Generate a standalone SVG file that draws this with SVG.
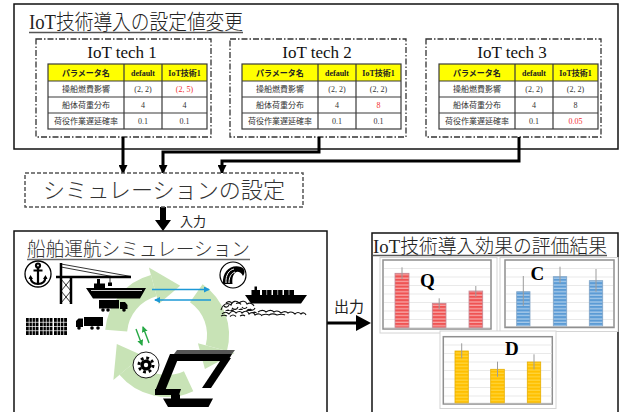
<svg xmlns="http://www.w3.org/2000/svg" xmlns:xlink="http://www.w3.org/1999/xlink" width="622" height="412" viewBox="0 0 622 412">
  <style>
    .mix { font-family: "Liberation Serif", "Noto Sans CJK JP", serif; }
    .jp { font-family: "Noto Sans CJK JP", sans-serif; }
    .box { fill: #fff; stroke: #111; stroke-width: 1.5; }
    .dd { fill: none; stroke: #333; stroke-width: 1.3; stroke-dasharray: 6 2 1.5 2; }
    .cell { fill: none; stroke: #3a3a3a; stroke-width: 1.2; }
    .th { font-size: 8px; font-weight: bold; text-anchor: middle; fill: #222; }
    .td { font-size: 8px; text-anchor: middle; fill: #333; }
    .red { fill: #f23030; }
    .conn { fill: none; stroke: #000; stroke-width: 3; }
    .grid { stroke: #e3e3e3; stroke-width: 0.8; }
    .frameO { fill: #fff; stroke: #d4d4d4; stroke-width: 1; }
    .frameI { fill: #fff; stroke: #8f8f8f; stroke-width: 1.5; }
    .err { stroke: #9c9c9c; stroke-width: 1; fill: none; }
    .lbl { font-family: "Liberation Serif", serif; font-weight: bold; font-size: 19px; fill: #000; }
    .ring { fill: none; stroke: #c8e3b6; stroke-width: 22; }
    .ringHead { fill: #c8e3b6; }
  </style>
  <defs>
    <marker id="ah" markerUnits="userSpaceOnUse" markerWidth="9" markerHeight="9" refX="8" refY="4.5" orient="auto">
      <path d="M0,0 L9,4.5 L0,9 Z" fill="#000"/>
    </marker>
    <marker id="bh" markerUnits="userSpaceOnUse" markerWidth="6" markerHeight="6" refX="5" refY="3" orient="auto">
      <path d="M0,0 L6,3 L0,6 Z" fill="#1c98d6"/>
    </marker>
    <marker id="gh" markerUnits="userSpaceOnUse" markerWidth="6" markerHeight="6" refX="5" refY="3" orient="auto">
      <path d="M0,0 L6,3 L0,6 Z" fill="#27a845"/>
    </marker>
    <pattern id="stR" width="6" height="3.4" patternUnits="userSpaceOnUse">
      <rect width="6" height="3.4" fill="#ef5353"/>
      <rect y="2.1" width="6" height="1.3" fill="#f8a4a4"/>
    </pattern>
    <pattern id="stB" width="6" height="3.4" patternUnits="userSpaceOnUse">
      <rect width="6" height="3.4" fill="#5b9bd5"/>
      <rect y="2.1" width="6" height="1.3" fill="#a8cbea"/>
    </pattern>
    <pattern id="stY" width="6" height="3.4" patternUnits="userSpaceOnUse">
      <rect width="6" height="3.4" fill="#ffc000"/>
      <rect y="2.1" width="6" height="1.3" fill="#ffd43a"/>
    </pattern>
    <!-- parameter table: grid, header and fixed columns -->
    <g id="tbl">
      <rect x="0" y="0" width="159" height="17" fill="#ffff00"/>
      <rect class="cell" x="0" y="0" width="159" height="65" stroke-width="1.5"/>
      <path class="cell" d="M0 17 H159 M0 33 H159 M0 49 H159 M76 0 V65 M114 0 V65"/>
      <text class="th jp" x="38" y="11.5">パラメータ名</text>
      <text class="th mix" x="95" y="11.5">default</text>
      <text class="th mix" x="136.5" y="11.5">IoT技術1</text>
      <text class="td jp" x="38" y="28">操船燃費影響</text>
      <text class="td jp" x="38" y="44">船体荷重分布</text>
      <text class="td jp" x="38" y="60">荷役作業遅延確率</text>
      <text class="td mix" x="95" y="28">(2, 2)</text>
      <text class="td mix" x="95" y="44">4</text>
      <text class="td mix" x="95" y="60">0.1</text>
    </g>
  </defs>

  <rect width="622" height="412" fill="#fff"/>

  <!-- settings panel -->
  <g id="settings">
    <rect class="box" x="14" y="4" width="604" height="145"/>
    <text class="mix" x="29" y="29" font-size="21" font-weight="300" fill="#222" textLength="214" lengthAdjust="spacingAndGlyphs">IoT技術導入の設定値変更</text>
    <path d="M29 32.5 H243" stroke="#555" stroke-width="1.5"/>
  </g>

  <g id="tech1">
    <rect class="dd" x="36" y="39" width="175" height="98"/>
    <text class="mix" x="122" y="58" font-size="17" text-anchor="middle" fill="#111">IoT tech 1</text>
    <use xlink:href="#tbl" x="48" y="64"/>
    <text class="td mix red" x="184.5" y="92">(2, 5)</text>
    <text class="td mix" x="184.5" y="108">4</text>
    <text class="td mix" x="184.5" y="124">0.1</text>
  </g>

  <g id="tech2">
    <rect class="dd" x="230" y="39" width="176" height="98"/>
    <text class="mix" x="317" y="58" font-size="17" text-anchor="middle" fill="#111">IoT tech 2</text>
    <use xlink:href="#tbl" x="242" y="64"/>
    <text class="td mix" x="378.5" y="92">(2, 2)</text>
    <text class="td mix red" x="378.5" y="108">8</text>
    <text class="td mix" x="378.5" y="124">0.1</text>
  </g>

  <g id="tech3">
    <rect class="dd" x="426" y="39" width="175" height="98"/>
    <text class="mix" x="512" y="58" font-size="17" text-anchor="middle" fill="#111">IoT tech 3</text>
    <use xlink:href="#tbl" x="439" y="64"/>
    <text class="td mix" x="575.5" y="92">(2, 2)</text>
    <text class="td mix" x="575.5" y="108">8</text>
    <text class="td mix red" x="575.5" y="124">0.05</text>
  </g>

  <!-- connectors -->
  <g id="connectors">
    <path class="conn" d="M123 137 V173" marker-end="url(#ah)"/>
    <path class="conn" d="M319 137 V152 H163 V173" marker-end="url(#ah)"/>
    <path class="conn" d="M519 137 V161 H222 V173" marker-end="url(#ah)"/>
    <path d="M160 207 H166 V220 H171 L163 231 L155 220 H160 Z" fill="#000"/>
    <text class="jp" x="180" y="226" font-size="13" fill="#222">入力</text>
    <path d="M327 321.5 H356 V315 L371 323 L356 331 V324.5 H327 Z" fill="#000"/>
    <text class="jp" x="334" y="312" font-size="15" fill="#222">出力</text>
  </g>

  <g id="sim-setup">
    <rect x="25" y="173" width="278" height="34" fill="#fff" stroke="#555" stroke-width="1.5" stroke-dasharray="4 2"/>
    <text class="jp" x="43" y="198" font-size="22" font-weight="300" fill="#333" textLength="242" lengthAdjust="spacingAndGlyphs">シミュレーションの設定</text>
  </g>

  <!-- ship operation simulation panel -->
  <g id="ship-sim">
    <rect class="box" x="14" y="231" width="313" height="190"/>
    <text class="jp" x="27" y="256" font-size="19" font-weight="300" fill="#333" textLength="223" lengthAdjust="spacingAndGlyphs">船舶運航シミュレーション</text>
    <path d="M27 259.5 H250" stroke="#666" stroke-width="1.5"/>

    <!-- cycle ring -->
    <path class="ring" d="M116.2 330.6 A51 51 0 0 1 153.8 285.7"/>
    <path class="ringHead" d="M158.7 304.1 L148.9 267.4 L180.2 285.7 Z"/>
    <path class="ring" d="M196.3 293.2 A51 51 0 0 1 216.3 348.2"/>
    <path class="ringHead" d="M197.9 343.3 L234.6 353.1 L204.9 369.1 Z"/>
    <path class="ring" d="M188.6 381.2 A51 51 0 0 1 127.9 367.8"/>
    <path class="ringHead" d="M142.5 355.6 L113.4 380 L116.8 343.9 Z"/>

    <!-- anchor -->
    <circle cx="38" cy="274" r="13" fill="#fff" stroke="#000" stroke-width="1.3"/>
    <g fill="none" stroke="#000" stroke-width="2.2">
      <circle cx="38" cy="265.5" r="2"/>
      <path d="M38 267.5 V283.5 M33.5 270.5 H42.5 M30.5 277 Q31 284 38 284 Q45 284 45.5 277"/>
    </g>
    <path d="M28.5 279 L30.5 275 L33 279 Z M43 279 L45.5 275 L47.5 279 Z" fill="#000"/>

    <!-- crane -->
    <g fill="none" stroke="#000">
      <path d="M56 277 H131" stroke-width="2.5"/>
      <path d="M61 263 V304 M71 277 V304" stroke-width="2.5"/>
      <path d="M61 279 L71 291 M71 279 L61 291 M61 291 L71 303 M71 291 L61 303" stroke-width="0.8"/>
      <path d="M61 264 L131 276.5 M61 267 L112 276.5 M110 277 V283" stroke-width="0.8"/>
    </g>
    <rect x="108" y="282.5" width="4" height="3.5" fill="#000"/>

    <!-- moored ship -->
    <path d="M86 288 H146 L140 298.5 H93 Z M94 288 V283.5 H97 V279 H100 V283.5 H105 V288 Z" fill="#000"/>
    <path d="M91 290.5 H142" stroke="#fff" stroke-width="0.8"/>

    <!-- trucks -->
    <g fill="#000">
      <rect x="99" y="300" width="20" height="8.5"/>
      <path d="M120 302 H125 L127.5 305 V309 H120 Z"/>
      <circle cx="103" cy="310" r="1.8"/>
      <circle cx="108" cy="310" r="1.8"/>
      <circle cx="124" cy="310" r="1.8"/>
      <path d="M76 321 L78.5 318.5 H83 V327 H76 Z"/>
      <rect x="84" y="317" width="19" height="9"/>
      <circle cx="79" cy="328" r="1.8"/>
      <circle cx="92" cy="328" r="1.8"/>
      <circle cx="98" cy="328" r="1.8"/>
    </g>

    <!-- container stacks -->
    <g fill="#000">
      <rect x="26" y="318" width="12.5" height="17"/>
      <rect x="40" y="318" width="12.5" height="17"/>
      <rect x="54" y="318" width="13" height="17"/>
    </g>
    <path d="M26 322.3 H67 M26 326.5 H67 M26 330.7 H67 M29.2 318 V335 M32.3 318 V335 M35.4 318 V335 M43.2 318 V335 M46.3 318 V335 M49.4 318 V335 M57.3 318 V335 M60.5 318 V335 M63.7 318 V335" stroke="#fff" stroke-width="0.7"/>

    <!-- rough-sea icon -->
    <circle cx="233" cy="275" r="13" fill="#fff" stroke="#000" stroke-width="1.2"/>
    <path d="M223 284 C222 271 231 264 241 267 C245 268.5 245.5 273 243 276 C241 272 237.5 271 235.5 272.5 C232.5 275 232 279.5 232.5 284 Z" fill="#000"/>
    <path d="M226 283 C225.5 275 229 270 234 269 M229 283 C229 277 231 273.5 235 272" fill="none" stroke="#fff" stroke-width="1"/>

    <!-- container ship at sea -->
    <path d="M245 295 H307 L301 303.5 H251 Z M251.5 295 V290 H254.5 V286.5 H257 V290 H260 V295 Z" fill="#000"/>
    <path d="M262 290 H271.5 V295 H262 Z M273 290 H282.5 V295 H273 Z M284 290 H294 V295 H284 Z" fill="#000"/>
    <path d="M266.7 290 V295 M277.7 290 V295 M289 290 V295" stroke="#fff" stroke-width="0.6"/>
    <g fill="none" stroke="#111" stroke-width="1.1">
      <path d="M221 310 c2 -6 6 -8 10 -5 c1 -4 6 -5 8 -2 c3 -3 7 -2 8 1 c3 -2 6 0 7 2"/>
      <path d="M222 314 c3 -3 5 -2 7 0 c2 -3 5 -4 7 -1 c2 -2 5 -2 6 0 c3 -3 6 -2 7 1 c2 -2 5 -2 6 1 c3 -2 6 -1 7 1"/>
      <path d="M224 306 c2 2 4 1 5 -1 M232 308 c2 2 5 2 6 -1 M242 307 c1 2 4 2 5 0 M250 309 c2 2 4 1 5 -1"/>
      <path d="M221 316 c2 -1 4 -1 6 0 M230 316.5 c2 -2 4 -2 6 0 M240 316 c2 -1 4 -1 5 0 M226 303 c2 -2 5 -2 6 1 M236 303.5 c2 -1 4 -1 5 1"/>
      <path d="M258 312 c3 -2 6 -2 8 0 c3 -2 6 -2 8 0 c3 -2 5 -1 7 1 c3 -2 5 -2 7 0 c3 -2 5 -1 7 1 c2 -2 4 -2 6 0 c2 -2 4 -1 5 1"/>
      <path d="M262 315 c3 -1 5 -1 7 0 c3 -2 6 -1 8 0 c3 -1 6 -1 8 0"/>
    </g>
    <path d="M225 311 c2 -2 4 -2 5 0 c1 -2 3 -2 4 0 z M238 310 c2 -2 4 -2 5 0 z M246 311 c2 -3 4 -3 6 0 z M252 313 c2 -2 3 -2 5 0 z" fill="#111"/>

    <!-- information exchange arrows -->
    <path d="M152 289.5 H209" stroke="#1c98d6" stroke-width="1.4" marker-end="url(#bh)"/>
    <path d="M211 300 H155" stroke="#1c98d6" stroke-width="1.4" marker-end="url(#bh)"/>
    <path d="M136 329 L142 345" stroke="#27a845" stroke-width="1.4" marker-end="url(#gh)"/>
    <path d="M149 343 L143 327" stroke="#27a845" stroke-width="1.4" marker-end="url(#gh)"/>

    <!-- operations gear icon -->
    <circle cx="146" cy="365" r="13" fill="#fff" stroke="#000" stroke-width="0.9"/>
    <circle cx="146" cy="365" r="7" fill="none" stroke="#000" stroke-width="3" stroke-dasharray="2.75 2.75"/>
    <circle cx="146" cy="365" r="5.6" fill="#000"/>
    <circle cx="146" cy="365" r="2.2" fill="#fff"/>

    <!-- berth / pier -->
    <path d="M177 350 H235 L232 354 H174 Z" fill="#555"/>
    <path d="M174 354 H232 L228 361 H170 Z" fill="#000"/>
    <path d="M170 354 H180 L165 391 H155 Z" fill="#000"/>
    <path d="M155 389 H181 L179 395 H155 Z" fill="#000"/>
    <path d="M222 358 H231 L211 388 H202 Z" fill="#000"/>

    <!-- ship at berth -->
    <path d="M163 398.5 H213 L208.5 407 H168 Z M171 398.5 V394.5 H174 V391 H176.5 V394.5 H180 V398.5 Z" fill="#000"/>
  </g>

  <!-- evaluation results panel -->
  <g id="results">
    <rect class="box" x="372" y="233" width="246" height="190"/>
    <text class="mix" x="373" y="252.5" font-size="19" font-weight="300" fill="#222" textLength="234" lengthAdjust="spacingAndGlyphs">IoT技術導入効果の評価結果</text>
    <path d="M373 255.5 H607" stroke="#555" stroke-width="1.3"/>

    <g id="chartQ">
      <rect class="frameO" x="380" y="257.5" width="117" height="75.5"/>
      <rect class="frameI" x="383" y="260" width="108" height="69"/>
      <path class="grid" d="M384 268.5 H490 M384 277 H490 M384 285.5 H490 M384 294 H490 M384 302.5 H490 M384 311 H490 M384 319.5 H490"/>
      <g stroke="#c48a98" stroke-width="0.8">
        <rect x="395" y="273.3" width="14" height="54.7" fill="url(#stR)"/>
        <rect x="432.3" y="303.3" width="13.7" height="24.7" fill="url(#stR)"/>
        <rect x="469" y="291" width="13.7" height="37" fill="url(#stR)"/>
      </g>
      <path class="err" d="M402 267.3 V279 M439.2 298.3 V309.3 M475.8 286 V296.7"/>
      <path d="M384 328 H490" stroke="#bdbdbd" stroke-width="0.8"/>
      <text class="lbl" x="420" y="286.5">Q</text>
    </g>

    <g id="chartC">
      <rect class="frameO" x="500" y="257.5" width="118" height="74"/>
      <rect class="frameI" x="505" y="260" width="109" height="67.5"/>
      <path class="grid" d="M506 268.5 H613 M506 277 H613 M506 285.5 H613 M506 294 H613 M506 302.5 H613 M506 311 H613 M506 319.5 H613"/>
      <g stroke="#7fa3c6" stroke-width="0.8">
        <rect x="516.7" y="291.7" width="13.3" height="34.8" fill="url(#stB)"/>
        <rect x="553.3" y="276.7" width="13.4" height="49.8" fill="url(#stB)"/>
        <rect x="589.3" y="280.7" width="13.4" height="45.8" fill="url(#stB)"/>
      </g>
      <path class="err" d="M523.3 276 V306 M560 266.7 V283.3 M596 269 V291.7"/>
      <path d="M506 326.5 H613" stroke="#bdbdbd" stroke-width="0.8"/>
      <text class="lbl" x="530.5" y="280">C</text>
    </g>

    <g id="chartD">
      <rect class="frameO" x="440" y="331" width="116" height="77.5"/>
      <rect class="frameI" x="443.3" y="336.7" width="109" height="67.3"/>
      <path class="grid" d="M444 345 H552 M444 353.5 H552 M444 362 H552 M444 370.5 H552 M444 379 H552 M444 387.5 H552 M444 396 H552"/>
      <g stroke="#e5ae00" stroke-width="0.8">
        <rect x="455" y="351" width="13.3" height="52.3" fill="url(#stY)"/>
        <rect x="490.7" y="369.3" width="13.6" height="34" fill="url(#stY)"/>
        <rect x="527.3" y="362" width="13.4" height="41.3" fill="url(#stY)"/>
      </g>
      <path class="err" d="M461.7 343.3 V358.3 M497.5 361.7 V376.7 M534 354.3 V369.3"/>
      <path d="M444 403.3 H552" stroke="#bdbdbd" stroke-width="0.8"/>
      <text class="lbl" x="505" y="355">D</text>
    </g>
  </g>
</svg>
